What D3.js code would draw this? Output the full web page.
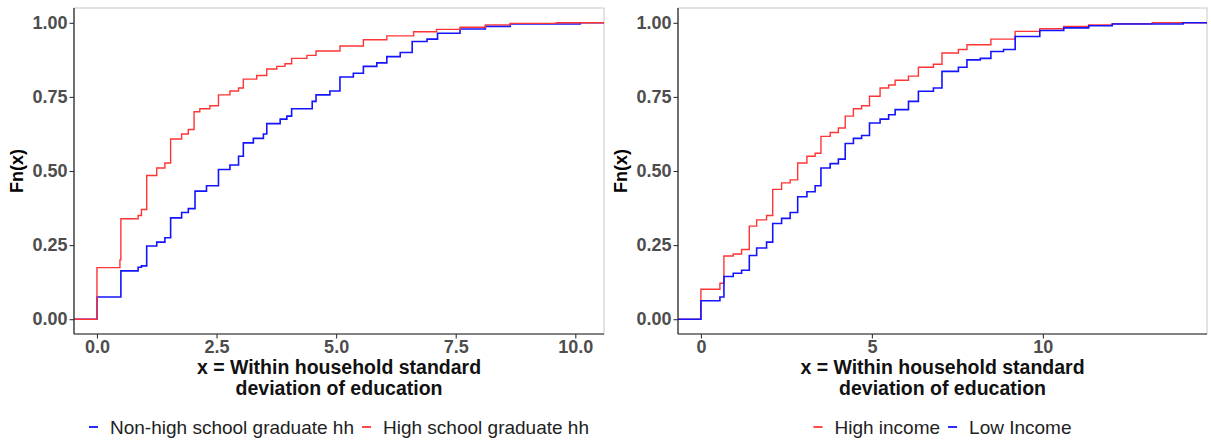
<!DOCTYPE html>
<html>
<head>
<meta charset="utf-8">
<title>ECDF</title>
<script src="https://cdn.jsdelivr.net/npm/d3@7"></script>
<style>
  body { margin: 0; background: #fff; }
  text { font-family: "Liberation Sans", Arial, sans-serif; }
</style>
</head>
<body>
<svg width="1211" height="441" id="mainsvg"></svg>
<script>
// left panel: education of household head
const eduHighX = [0, 0.48, 0.50, 0.86, 0.93, 1.04, 1.25, 1.42, 1.54, 1.77, 1.91, 2.03, 2.15, 2.36, 2.54, 2.78, 2.96, 3.06, 3.34, 3.55, 3.76, 3.93, 4.07, 4.39, 4.58, 5.08, 5.57, 6.06, 6.62, 7.1, 7.59, 8.12, 8.64, 9.6];
const eduHighY = [0.174, 0.20, 0.339, 0.35, 0.37, 0.485, 0.51, 0.527, 0.608, 0.625, 0.64, 0.70, 0.71, 0.72, 0.757, 0.77, 0.78, 0.81, 0.822, 0.844, 0.853, 0.862, 0.88, 0.89, 0.905, 0.922, 0.943, 0.956, 0.97, 0.978, 0.985, 0.993, 0.998, 1.0];
const eduLowX = [0, 0.50, 0.86, 0.93, 1.04, 1.25, 1.42, 1.54, 1.77, 1.91, 2.05, 2.29, 2.54, 2.78, 2.96, 3.06, 3.27, 3.48, 3.55, 3.83, 3.97, 4.07, 4.5, 4.58, 4.87, 5.08, 5.36, 5.57, 5.85, 6.06, 6.34, 6.59, 6.9, 7.12, 7.59, 8.12, 8.64, 10.1];
const eduLowY = [0.075, 0.163, 0.175, 0.18, 0.247, 0.26, 0.275, 0.342, 0.36, 0.373, 0.432, 0.45, 0.505, 0.52, 0.55, 0.595, 0.61, 0.625, 0.66, 0.675, 0.685, 0.71, 0.735, 0.757, 0.77, 0.817, 0.83, 0.853, 0.865, 0.886, 0.90, 0.937, 0.945, 0.965, 0.979, 0.988, 0.996, 1.0];

// right panel: income
const incHighX = [0, 0.556, 0.673, 0.946, 1.19, 1.415, 1.63, 1.92, 2.1, 2.36, 2.61, 2.83, 3.1, 3.34, 3.51, 3.78, 4.02, 4.22, 4.46, 4.7, 4.93, 5.24, 5.49, 5.68, 6.07, 6.36, 6.8, 7.05, 7.53, 7.78, 8.48, 9.19, 9.91, 10.61, 11.34, 12.03, 13.2];
const incHighY = [0.101, 0.121, 0.213, 0.22, 0.235, 0.314, 0.335, 0.35, 0.438, 0.46, 0.47, 0.527, 0.55, 0.56, 0.617, 0.63, 0.645, 0.685, 0.71, 0.72, 0.752, 0.78, 0.79, 0.806, 0.82, 0.85, 0.86, 0.898, 0.91, 0.926, 0.945, 0.971, 0.98, 0.988, 0.993, 0.997, 1.0];
const incLowX = [0, 0.556, 0.673, 0.946, 1.19, 1.415, 1.63, 1.92, 2.1, 2.36, 2.61, 2.83, 3.1, 3.34, 3.51, 3.78, 4.02, 4.22, 4.46, 4.7, 4.93, 5.24, 5.49, 5.68, 6.07, 6.36, 6.8, 7.05, 7.53, 7.78, 8.17, 8.48, 8.85, 9.19, 9.91, 10.61, 11.34, 12.03, 14.1];
const incLowY = [0.062, 0.075, 0.144, 0.155, 0.165, 0.215, 0.24, 0.26, 0.323, 0.34, 0.36, 0.413, 0.43, 0.45, 0.51, 0.525, 0.54, 0.593, 0.61, 0.62, 0.662, 0.675, 0.69, 0.707, 0.735, 0.769, 0.78, 0.836, 0.85, 0.875, 0.88, 0.903, 0.91, 0.954, 0.974, 0.983, 0.99, 0.996, 1.0];

const yTicks = [0, 0.25, 0.5, 0.75, 1];
const leftXTicks = [0, 2.5, 5, 7.5, 10];
const rightXTicks = [0, 5, 10];
const xTitle = ["x = Within household standard", "deviation of education"];
const RED = "#ff3535", BLUE = "#1414ff";

const svg = d3.select("svg");

const panels = [
  {
    left: 74, right: 604, xdom: [-0.48, 10.6], ticks: leftXTicks, fmt: d3.format(".1f"),
    series: [
      { name: "Non-high school graduate hh", xs: eduLowX, ys: eduLowY, color: BLUE, w: 1.6 },
      { name: "High school graduate hh", xs: eduHighX, ys: eduHighY, color: RED, w: 1.4 }
    ]
  },
  {
    left: 678, right: 1207, xdom: [-0.67, 14.8], ticks: rightXTicks, fmt: d3.format("d"),
    series: [
      { name: "High income", xs: incHighX, ys: incHighY, color: RED, w: 1.4 },
      { name: "Low Income", xs: incLowX, ys: incLowY, color: BLUE, w: 1.6 }
    ]
  }
];

const plotTop = 8, plotBottom = 334;
const y = d3.scaleLinear().domain([-0.05, 1.05]).range([plotBottom, plotTop]);

panels.forEach(p => {
  const x = d3.scaleLinear().domain(p.xdom).range([p.left, p.right]);
  const g = svg.append("g");

  // panel border (light) on top/right
  g.append("rect").attr("x", p.left).attr("y", plotTop)
    .attr("width", p.right - p.left).attr("height", plotBottom - plotTop)
    .attr("fill", "none").attr("stroke", "#c8c8c8").attr("stroke-width", 1);

  // step lines
  const line = d3.line().x(d => x(d[0])).y(d => y(d[1])).curve(d3.curveStepAfter);
  p.series.forEach(s => {
    const pts = [[p.xdom[0], 0]].concat(s.xs.map((v, i) => [v, s.ys[i]]));
    pts.push([p.xdom[1], 1]);
    g.append("path").datum(pts).attr("d", line)
      .attr("fill", "none").attr("stroke", s.color).attr("stroke-width", s.w);
  });

  // axes
  const ax = g.append("g").attr("transform", `translate(0,${plotBottom})`)
    .call(d3.axisBottom(x).tickValues(p.ticks).tickFormat(p.fmt).tickSizeOuter(0).tickSize(4.5).tickPadding(2));
  const ay = g.append("g").attr("transform", `translate(${p.left},0)`)
    .call(d3.axisLeft(y).tickValues(yTicks).tickFormat(d3.format(".2f")).tickSizeOuter(0).tickSize(4.5).tickPadding(2));
  [ax, ay].forEach(a => {
    a.select(".domain").attr("stroke", "#222").attr("stroke-width", 1.2);
    a.selectAll(".tick line").attr("stroke", "#333").attr("stroke-width", 1.1);
    a.selectAll(".tick text").attr("fill", "#4d4d4d").attr("font-size", 18)
      .attr("font-weight", "bold").style("font-family", "Liberation Sans, Arial, sans-serif");
  });
  ax.select(".domain").attr("d", `M${p.left},0H${p.right}`);
  ay.select(".domain").attr("d", `M0,${plotBottom}V${plotTop}`);

  // y title
  g.append("text").attr("transform", `translate(${p.left - 51},${(plotTop + plotBottom) / 2}) rotate(-90)`)
    .attr("text-anchor", "middle").attr("font-size", 18).attr("font-weight", "bold")
    .attr("fill", "#000").text("Fn(x)");

  // x title
  const cx = (p.left + p.right) / 2;
  xTitle.forEach((t, i) => {
    g.append("text").attr("x", cx).attr("y", 374 + i * 21)
      .attr("text-anchor", "middle").attr("font-size", 19.5).attr("font-weight", "bold")
      .attr("fill", "#111").text(t);
  });

  // legend
  const lg = g.append("g");
  let pos = 0;
  p.series.forEach((s, i) => {
    if (i > 0) pos += 8;
    lg.append("line").attr("x1", pos).attr("x2", pos + 9).attr("y1", 0).attr("y2", 0)
      .attr("stroke", s.color).attr("stroke-width", 1.8);
    pos += 21;
    const t = lg.append("text").attr("x", pos).attr("y", 7)
      .attr("font-size", 19).attr("fill", "#222").text(s.name);
    pos += t.node().getComputedTextLength();
  });
  lg.attr("transform", `translate(${cx - pos / 2},427)`);
});
</script>
</body>
</html>
